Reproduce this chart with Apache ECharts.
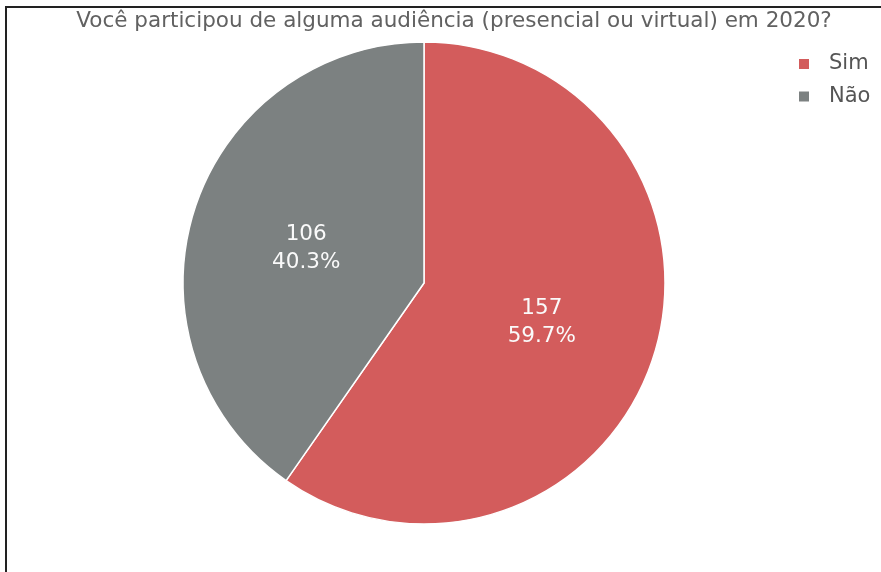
<!DOCTYPE html>
<html>
<head>
<meta charset="utf-8">
<script src="https://cdn.jsdelivr.net/npm/echarts@6/dist/echarts.min.js"></script>
<style>
html,body{margin:0;padding:0;background:#fff;}
#frame{position:absolute;left:5px;top:6px;width:880px;height:570px;border-left:2px solid #222;border-top:2px solid #222;box-sizing:border-box;}
#chart{width:881px;height:572px;position:absolute;left:0;top:0;}
</style>
</head>
<body>
<div id="frame"></div>
<div id="chart"></div>
<script>
const titleText = 'Você participou de alguma audiência (presencial ou virtual) em 2020?';
const categories = ['Sim', 'Não'];
const values = [157, 106];
const colors = ['#d35c5c', '#7c8181'];

const total = values.reduce((a, b) => a + b, 0);
const chart = echarts.init(document.getElementById('chart'), null, {renderer: 'canvas'});
chart.setOption({
  animation: false,
  title: {
    text: titleText,
    left: 449, top: 5, textAlign: 'center',
    textStyle: {fontFamily: 'DejaVu Sans', fontSize: 21.5, fontWeight: 'normal', color: '#616161'}
  },
  legend: {
    orient: 'vertical',
    left: 792, top: 48,
    itemWidth: 12, itemHeight: 12, itemGap: 10.5,
    icon: 'rect',
    data: categories,
    textStyle: {fontFamily: 'DejaVu Sans', fontSize: 21, lineHeight: 22, color: '#555', padding: [0, 0, 0, 14]}
  },
  series: [{
    type: 'pie',
    center: [424, 283],
    radius: [0, 241],
    startAngle: 90,
    clockwise: true,
    color: colors,
    itemStyle: {borderColor: '#fff', borderWidth: 1.5},
    label: {
      position: 'inside',
      offset: [0, 2.5],
      fontFamily: 'DejaVu Sans', fontSize: 21.5, color: '#fafafa', lineHeight: 28,
      formatter: p => p.value + '\n' + (p.value / total * 100).toFixed(1) + '%'
    },
    labelLine: {show: false},
    data: categories.map((c, i) => ({name: c, value: values[i]}))
  }]
});
</script>
</body>
</html>
